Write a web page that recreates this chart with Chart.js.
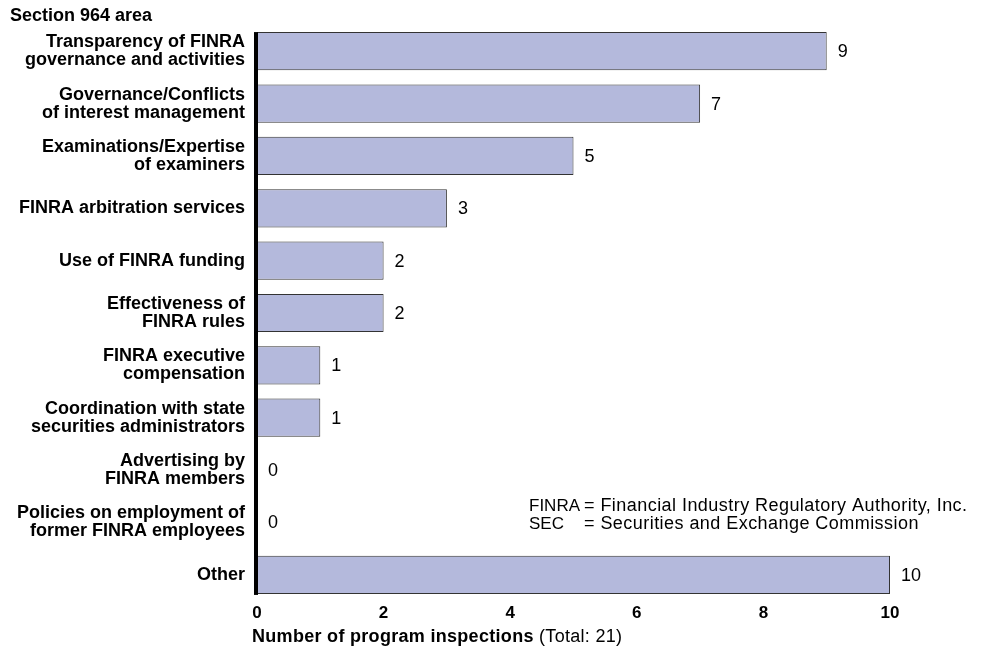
<!DOCTYPE html>
<html>
<head>
<meta charset="utf-8">
<script src="https://cdn.jsdelivr.net/npm/chart.js@4"></script>
<style>
  html, body { margin: 0; padding: 0; background: #fff; }
  #wrap { width: 983px; height: 649px; }
</style>
</head>
<body>
<div id="wrap"><canvas id="inspChart" width="983" height="649"></canvas></div>
<script>
const areas = [
    ['Transparency of FINRA', 'governance and activities'],
    ['Governance/Conflicts', 'of interest management'],
    ['Examinations/Expertise', 'of examiners'],
    'FINRA arbitration services',
    'Use of FINRA funding',
    ['Effectiveness of', 'FINRA rules'],
    ['FINRA executive', 'compensation'],
    ['Coordination with state', 'securities administrators'],
    ['Advertising by', 'FINRA members'],
    ['Policies on employment of', 'former FINRA employees'],
    'Other'
];
const inspections = [9, 7, 5, 3, 2, 2, 1, 1, 0, 0, 10];
const notes = [
    ['FINRA', '= Financial Industry Regulatory Authority, Inc.'],
    ['SEC', '= Securities and Exchange Commission']
];

const FONT = "'Liberation Sans', Arial, sans-serif";

// value labels, axis line, title, axis title and abbreviations
const extras = {
    id: 'extras',
    afterDatasetsDraw(chart) {
        const ctx = chart.ctx;
        const meta = chart.getDatasetMeta(0);
        const first = meta.data[0], last = meta.data[meta.data.length - 1];
        ctx.save();
        ctx.fillStyle = '#000';
        ctx.fillRect(chart.chartArea.left - 3, first.y - first.height / 2, 4,
            (last.y + last.height / 2) - (first.y - first.height / 2) + 1);

        ctx.textBaseline = 'middle';
        ctx.font = '18px ' + FONT;
        meta.data.forEach((bar, i) => {
            ctx.fillText(String(inspections[i]), bar.x + 11, bar.y + 1);
        });

        notes.forEach((n, i) => {
            ctx.font = '17px ' + FONT;
            ctx.letterSpacing = '0px';
            ctx.fillText(n[0], 529, 506 + i * 18);
            ctx.font = '18px ' + FONT;
            ctx.letterSpacing = '0.45px';
            ctx.fillText(n[1], 584, 506 + i * 18);
        });
        ctx.letterSpacing = '0px';

        ctx.font = 'bold 18px ' + FONT;
        ctx.fillText('Section 964 area', 10, 16);

        ctx.letterSpacing = '0.3px';
        const t1 = 'Number of program inspections';
        ctx.fillText(t1, 252, 637);
        const w = ctx.measureText(t1).width;
        ctx.font = '18px ' + FONT;
        ctx.fillText(' (Total: 21)', 252 + w, 637);
        ctx.restore();
    }
};

new Chart(document.getElementById('inspChart').getContext('2d'), {
    type: 'bar',
    data: {
        labels: areas,
        datasets: [{
            data: inspections,
            backgroundColor: '#b4b9dc',
            borderColor: '#333333',
            borderWidth: 1,
            borderSkipped: 'left',
            categoryPercentage: 0.73,
            barPercentage: 1
        }]
    },
    options: {
        indexAxis: 'y',
        responsive: false,
        animation: false,
        layout: { padding: { top: 25, right: 93, bottom: 0, left: 0 } },
        plugins: {
            legend: { display: false },
            tooltip: { enabled: false }
        },
        scales: {
            x: {
                min: 0,
                max: 10,
                ticks: {
                    stepSize: 2,
                    color: '#000',
                    padding: 2,
                    font: { family: FONT, size: 17, weight: 'bold' }
                },
                grid: { display: false, drawTicks: false },
                border: { display: false },
                afterFit(scale) { scale.height = 48; }
            },
            y: {
                ticks: {
                    color: '#000',
                    padding: 12,
                    font: { family: FONT, size: 18, weight: 'bold', lineHeight: 1.0 }
                },
                grid: { display: false, drawTicks: false },
                border: { display: false },
                afterFit(scale) { scale.width = 257; }
            }
        }
    },
    plugins: [extras]
});
</script>
</body>
</html>
